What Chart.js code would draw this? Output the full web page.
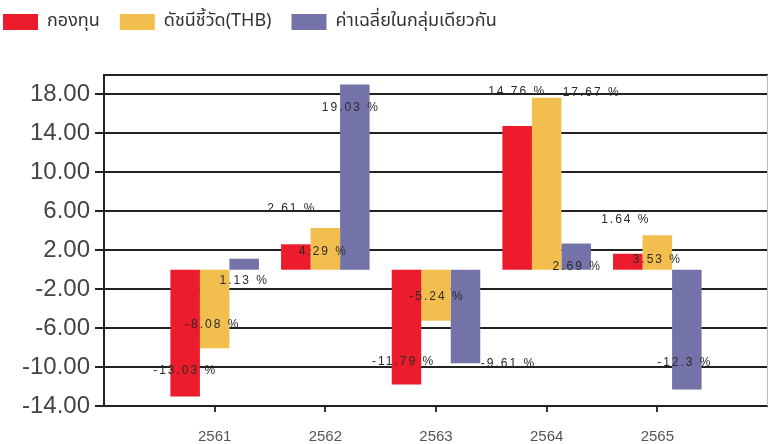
<!DOCTYPE html>
<html>
<head>
<meta charset="utf-8">
<script src="https://cdn.jsdelivr.net/npm/chart.js@4.4.1/dist/chart.umd.min.js"></script>
<style>
  html, body { margin: 0; padding: 0; background: #fff; overflow: hidden; }
  #wrap { position: absolute; left: -17px; top: -7px; width: 785px; height: 451px; }
</style>
</head>
<body>
<div id="wrap"><canvas id="barChart"></canvas></div>
<script>
// ── Data ─────────────────────────────────────────────────
const categories = ['2561', '2562', '2563', '2564', '2565'];
const fundReturns  = [-13.03, 2.61, -11.79, 14.76, 1.64];
const benchReturns = [-8.08, 4.29, -5.24, 17.67, 3.53];
const peerReturns  = [1.13, 19.03, -9.61, 2.69, -12.3];
const yTicks = [-14, -10, -6, -2, 2, 6, 10, 14, 18];
const seriesNames = ['กองทุน', 'ดัชนีชี้วัด(THB)', 'ค่าเฉลี่ยในกลุ่มเดียวกัน'];

// ── Layout: value label nudges [dx, dy] in px from the bar end ──
const labelNudge = [
  [[0, -26], [-4, -36], [-3, -23], [0, -34], [-2, -34]],
  [[-2, -24], [-2, 24], [1, -24], [45, -5], [0, 24]],
  [[0, 22], [-4, 23], [43, 0], [1, 23], [-2, -27]],
];

(function () {
  // empty slot at each end so ticks land where the reference puts them
  const labels = ['', ...categories, ''];
  const pad = arr => [null, ...arr, null];

  const frame = {
    id: 'frame',
    beforeInit(chart) {
      const fit = chart.legend.fit;
      chart.legend.fit = function () { fit.call(this); this.height = 82; };
    },
    afterDatasetsDraw(chart) {
      const { ctx, chartArea: a } = chart;
      ctx.save();
      ctx.strokeStyle = '#222';
      ctx.lineWidth = 2;
      ctx.beginPath();
      ctx.moveTo(a.left, a.top);
      ctx.lineTo(a.right, a.top);
      ctx.stroke();
      ctx.strokeStyle = '#bbb';
      ctx.lineWidth = 1;
      ctx.beginPath();
      ctx.moveTo(a.right - 0.5, a.top);
      ctx.lineTo(a.right - 0.5, a.bottom);
      ctx.stroke();

      // value labels
      ctx.font = '12px "Liberation Sans", Arial, sans-serif';
      ctx.letterSpacing = '2px';
      ctx.fillStyle = '#2a2a2a';
      ctx.textAlign = 'center';
      ctx.textBaseline = 'middle';
      chart.data.datasets.forEach((ds, di) => {
        chart.getDatasetMeta(di).data.forEach((el, i) => {
          const v = ds.data[i];
          if (v === null) return;
          const [dx, dy] = labelNudge[di][i - 1];
          ctx.fillText(`${v} %`, el.x + dx, el.y + dy);
        });
      });
      ctx.restore();
    },
  };

  new Chart(document.getElementById('barChart'), {
    type: 'bar',
    data: {
      labels,
      datasets: [
        { label: seriesNames[0], data: pad(fundReturns),  backgroundColor: '#EC1C2C' },
        { label: seriesNames[1], data: pad(benchReturns), backgroundColor: '#F2BF4E' },
        { label: seriesNames[2], data: pad(peerReturns),  backgroundColor: '#7373A9' },
      ],
    },
    options: {
      responsive: true,
      maintainAspectRatio: false,
      animation: false,
      layout: { padding: 0 },
      datasets: { bar: { categoryPercentage: 0.8, barPercentage: 1 } },
      scales: {
        x: {
          offset: false,
          grid: {
            offset: false,
            drawOnChartArea: false,
            tickLength: 6,
            lineWidth: 2,
            color: c => (c.index === 0 || c.index === labels.length - 1) ? 'rgba(0,0,0,0)' : '#333',
          },
          border: { color: '#222', width: 2 },
          ticks: {
            autoSkip: false,
            maxRotation: 0,
            padding: 16,
            color: '#555',
            font: { family: '"Liberation Sans", Arial, sans-serif', size: 15 },
          },
          afterFit: s => { s.height = 38; s.paddingLeft = 0; s.paddingRight = 0; },
        },
        y: {
          min: -14,
          max: 20,
          afterBuildTicks: s => { s.ticks = yTicks.map(v => ({ value: v })); },
          grid: { color: '#222', lineWidth: 2, tickLength: 9 },
          border: { color: '#222', width: 2 },
          ticks: {
            padding: 5,
            color: '#444',
            font: { family: '"Liberation Sans", Arial, sans-serif', size: 24 },
            callback: v => v.toFixed(2),
          },
          afterFit: s => { s.width = 121; },
        },
      },
      plugins: {
        tooltip: { enabled: false },
        legend: {
          position: 'top',
          align: 'start',
          labels: {
            boxWidth: 35,
            boxHeight: 16,
            padding: 20,
            color: '#333',
            font: { family: 'Tahoma, "Noto Sans Thai", "Noto Sans", sans-serif', size: 18 },
          },
        },
      },
    },
    plugins: [frame],
  });
}());
</script>
</body>
</html>
